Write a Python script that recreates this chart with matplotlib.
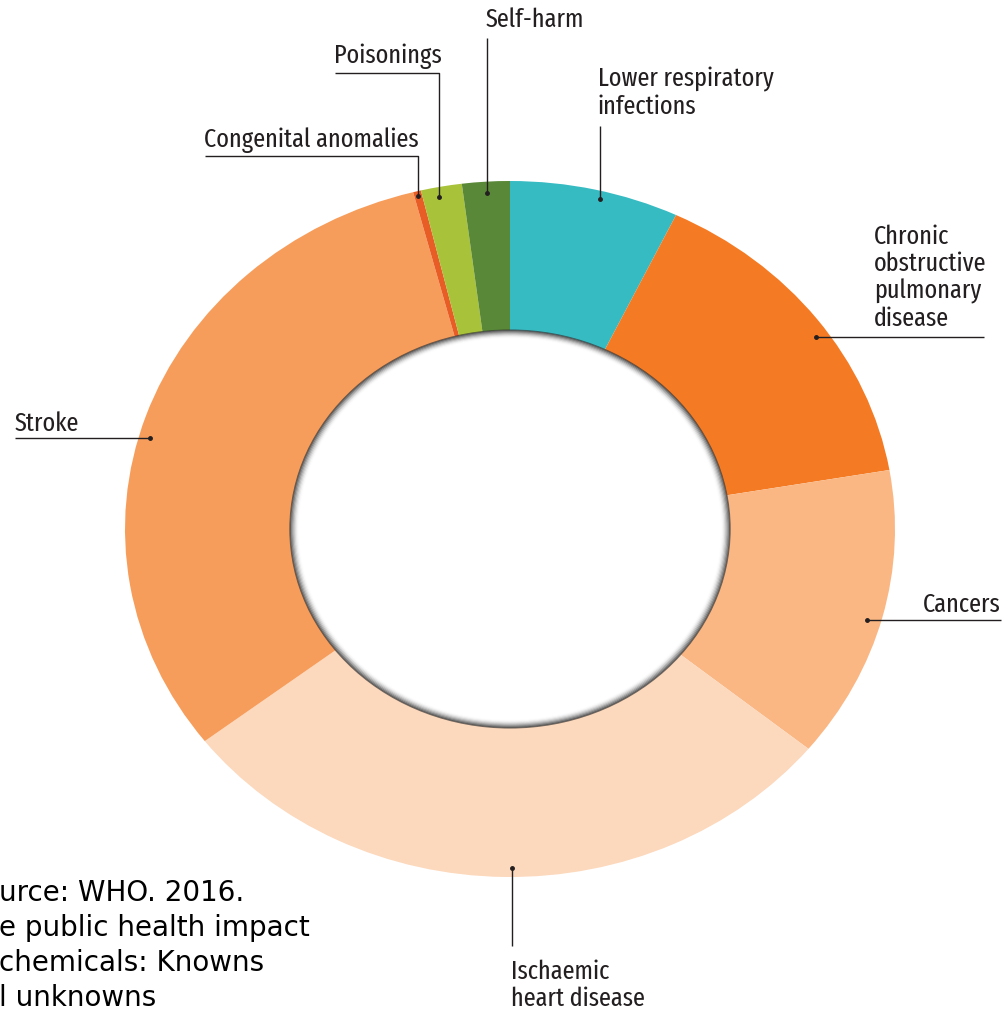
import matplotlib
matplotlib.use("Agg")
import matplotlib.pyplot as plt
from matplotlib.patches import Circle

# ---- data (shares of deaths, %) ----
categories = ["Lower respiratory\ninfections",
              "Chronic\nobstructive\npulmonary\ndisease",
              "Cancers",
              "Ischaemic\nheart disease",
              "Stroke",
              "Congenital anomalies",
              "Poisonings",
              "Self-harm"]
shares = [7.1, 15.2, 13.6, 28.7, 31.4, 0.33, 1.72, 2.0]
colors = ["#37BBC3", "#F47B24", "#FAB784", "#FCD8BC", "#F79D5C",
          "#E85C25", "#A8C23A", "#598838"]
source_lines = ["urce: WHO. 2016.", "e public health impact",
                "chemicals: Knowns", "l unknowns"]

# ---- layout ----
W, H = 1006, 1010
fig = plt.figure(figsize=(W / 100, H / 100), dpi=100)
fig.patch.set_facecolor("white")

cx, cy, rx, ry = 510, 529, 385, 348
axp = fig.add_axes([(cx - rx) / W, (H - cy - ry) / H, 2 * rx / W, 2 * ry / H])
ring = 0.429
wedges, _ = axp.pie(shares, colors=colors, startangle=90, counterclock=False,
                    radius=1, wedgeprops=dict(width=ring, linewidth=0))
axp.set_aspect("auto")
axp.set_xlim(-1, 1)
axp.set_ylim(-1, 1)
axp.axis("off")

# inner shadow of the hole
rin = 1 - ring
n = 8
for k in range(n):
    axp.add_patch(Circle((0, 0), rin - k * 0.003, fill=False,
                         edgecolor="#333333", lw=1.2,
                         alpha=0.7 * (1 - k / n) ** 2.2, zorder=5))

# overlay axes in pixel coordinates for labels / leader lines
ax = fig.add_axes([0, 0, 1, 1])
ax.set_xlim(0, W)
ax.set_ylim(H, 0)
ax.axis("off")
ax.patch.set_alpha(0)

ink = "#231F20"
label_font = ["Fira Sans Extra Condensed", "Fira Sans Condensed",
              "IBM Plex Sans Condensed", "DejaVu Sans"]

leaders = [
    [(600, 126), (600, 199)],
    [(984, 337), (816, 337)],
    [(1001, 620), (867, 620)],
    [(512, 946), (512, 868)],
    [(15, 438), (150, 438)],
    [(205, 156), (418, 156), (418, 196)],
    [(335, 73), (439, 73), (439, 197)],
    [(487, 38), (487, 193)],
]
# anchor = baseline of the last text line
label_pos = [
    (598, 114, "left"),
    (874, 326, "left"),
    (1001, 612, "right"),
    (511, 1006, "left"),
    (15, 431, "left"),
    (204, 147, "left"),
    (334, 63, "left"),
    (486, 27, "left"),
]

for cat, pts, (tx, ty, ha) in zip(categories, leaders, label_pos):
    xs = [p[0] for p in pts]
    ys = [p[1] for p in pts]
    ax.plot(xs, ys, color=ink, lw=1.0, solid_capstyle="butt")
    ax.plot(xs[-1], ys[-1], "o", color=ink, ms=2.5)
    ax.text(tx, ty, cat, ha=ha, va="baseline", family=label_font,
            fontsize=19, color=ink, linespacing=1.12)

for i, line in enumerate(source_lines):
    ax.text(-1, 901 + 35 * i, line, ha="left", va="baseline",
            family="DejaVu Sans", fontsize=20, color="black")

fig.savefig("out.png", dpi=100, facecolor="white")
